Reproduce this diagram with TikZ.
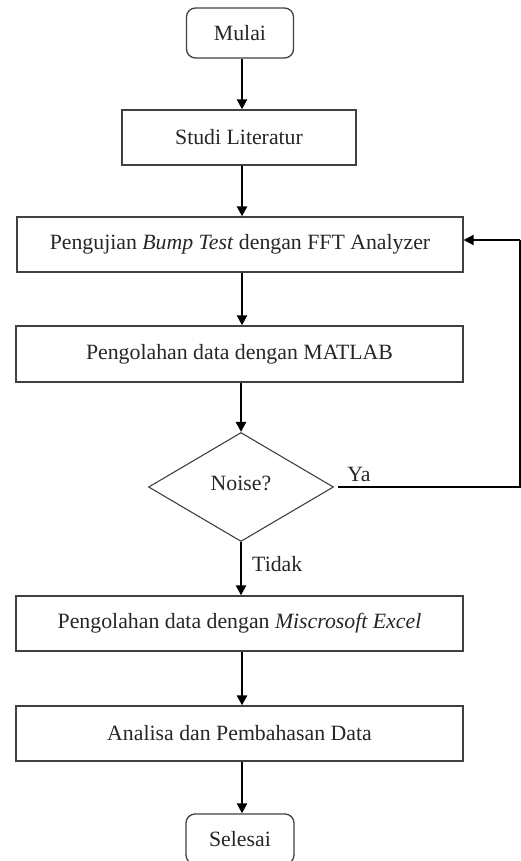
\documentclass[tikz,border=0pt]{standalone}
\usepackage{fontspec}
\setmainfont{Liberation Serif}
\usetikzlibrary{shapes.geometric,arrows.meta}
\begin{document}
\begin{tikzpicture}[x=1pt,y=-1pt,
  every node/.style={font=\fontsize{21.8}{24}\selectfont, text=black!85, inner sep=0pt},
  terminal/.style={draw=black!75, line width=1.3pt, rounded corners=9pt, minimum width=107pt, minimum height=50pt},
  procbox/.style={draw=black!75, line width=1.3pt, minimum height=55pt},
  decision/.style={draw=black!75, line width=1.1pt, diamond, minimum width=185pt, minimum height=109pt, aspect=1.7},
  flow/.style={line width=2.4pt, -{Triangle[length=10pt,width=10pt]}},
  lbl/.style={font=\fontsize{21.8}{24}\selectfont}
]
\useasboundingbox (0,0) rectangle (521,861);
\node[terminal] (mulai) at (240,33) {Mulai};
\node[procbox, minimum width=234pt] (studi) at (239,137.5) {Studi Literatur};
\node[procbox, minimum width=446pt] (uji) at (240,244.5) {Pengujian \textit{Bump Test} dengan FFT Analyzer};
\node[procbox, minimum width=447pt, minimum height=56pt] (matlab) at (239.5,354) {Pengolahan data dengan MATLAB};
\node[decision] (noise) at (241,487) {};
\node at (241,483) {Noise?};
\node[procbox, minimum width=447pt] (excel) at (239.5,623.5) {Pengolahan data dengan \textit{Miscrosoft Excel}};
\node[procbox, minimum width=447pt] (analisa) at (239.5,733.5) {Analisa dan Pembahasan Data};
\node[terminal, minimum width=108pt] (selesai) at (240,839) {Selesai};

\draw[flow] (mulai.south -| 242,0) -- (studi.north -| 242,0);
\draw[flow] (studi.south -| 242,0) -- (uji.north -| 242,0);
\draw[flow] (uji.south -| 242,0) -- (matlab.north -| 242,0);
\draw[flow] (matlab.south -| noise.north) -- (noise.north);
\draw[flow] (noise.south) -- (excel.north -| noise.south) node[lbl, pos=0.42, right=10pt] {Tidak};
\draw[flow] (excel.south -| 242,0) -- (analisa.north -| 242,0);
\draw[flow] (analisa.south -| 242,0) -- (selesai.north -| 242,0);

\coordinate (c1) at (520,487);
\coordinate (c2) at (520,240);
\draw[line width=2pt, shorten <=4pt] (noise.east) -- (c1) -- (c2);
\draw[line width=2pt, -{Triangle[length=10pt,width=10pt]}] (c2) -- (uji.east |- c2);
\node[lbl] at (359,474) {Ya};
\end{tikzpicture}
\end{document}
